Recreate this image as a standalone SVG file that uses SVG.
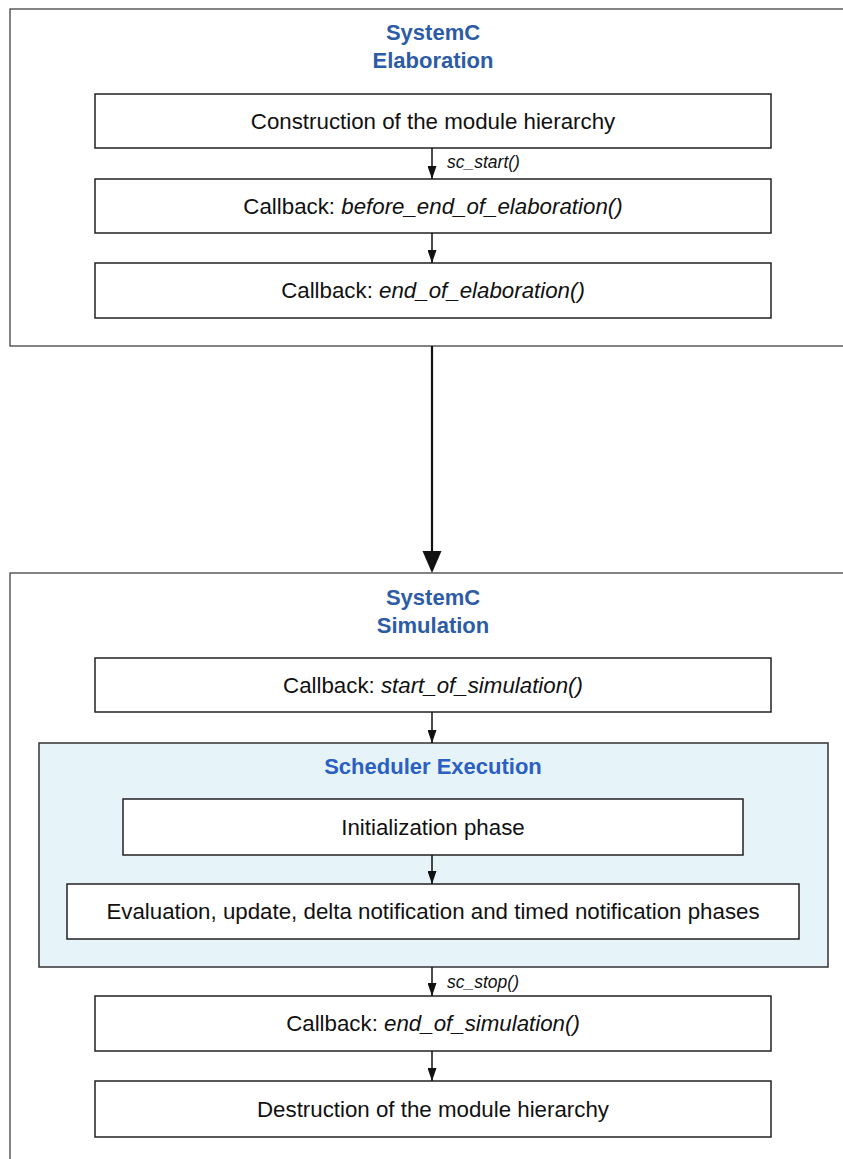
<svg xmlns="http://www.w3.org/2000/svg" width="843" height="1159" viewBox="0 0 843 1159">
<defs>
<style>
.frame{fill:#ffffff;stroke:#333333;stroke-width:1.2}
.sched{fill:#e6f3f9;stroke:#333333;stroke-width:1.5}
.node{fill:#ffffff;stroke:#222222;stroke-width:1.5}
.t{font-family:"Liberation Sans",Arial,sans-serif;font-size:22.3px;fill:#111111;text-anchor:middle}
.title{font-family:"Liberation Sans",Arial,sans-serif;font-size:22px;font-weight:bold;fill:#2d5ca6;text-anchor:middle}
.title2{font-family:"Liberation Sans",Arial,sans-serif;font-size:22px;font-weight:bold;fill:#2b5fc4;text-anchor:middle}
.lbl{font-family:"Liberation Sans",Arial,sans-serif;font-size:17.5px;font-style:italic;fill:#111111}
.conn{stroke:#111111;stroke-width:1.5;fill:none}
.big{stroke:#111111;stroke-width:2.2;fill:none}
</style>
<marker id="ah" markerWidth="13" markerHeight="9" refX="13" refY="4.5" orient="auto" markerUnits="userSpaceOnUse" viewBox="0 0 13 9">
<path d="M0,0 L13,4.5 L0,9 Z" fill="#111111"/>
</marker>
</defs>

<g id="elaboration">
<rect class="frame" x="10" y="9" width="845" height="337"/>
<text class="title" x="433" y="40">SystemC</text>
<text class="title" x="433" y="68">Elaboration</text>
</g>
<g id="n-construction">
<rect class="node" x="95" y="94" width="676" height="54"/>
<text class="t" x="433" y="129">Construction of the module hierarchy</text>
</g>
<g id="n-before-eoe">
<rect class="node" x="95" y="179" width="676" height="54"/>
<text class="t" x="433" y="214">Callback: <tspan font-style="italic">before_end_of_elaboration()</tspan></text>
</g>
<g id="n-eoe">
<rect class="node" x="95" y="263" width="676" height="55"/>
<text class="t" x="433" y="298">Callback: <tspan font-style="italic">end_of_elaboration()</tspan></text>
</g>

<g id="simulation">
<rect class="frame" x="10" y="573" width="845" height="600"/>
<text class="title" x="433" y="605">SystemC</text>
<text class="title" x="433" y="633">Simulation</text>
</g>
<g id="n-sos">
<rect class="node" x="95" y="658" width="676" height="54"/>
<text class="t" x="433" y="693">Callback: <tspan font-style="italic">start_of_simulation()</tspan></text>
</g>
<g id="scheduler">
<rect class="sched" x="39" y="743" width="789" height="224"/>
<text class="title2" x="433" y="774">Scheduler Execution</text>
</g>
<g id="n-init">
<rect class="node" x="123" y="799" width="620" height="56"/>
<text class="t" x="433" y="835">Initialization phase</text>
</g>
<g id="n-eval">
<rect class="node" x="67" y="884" width="732" height="55"/>
<text class="t" x="433" y="919">Evaluation, update, delta notification and timed notification phases</text>
</g>
<g id="n-eos">
<rect class="node" x="95" y="996" width="676" height="55"/>
<text class="t" x="433" y="1031">Callback: <tspan font-style="italic">end_of_simulation()</tspan></text>
</g>
<g id="n-destruction">
<rect class="node" x="95" y="1081" width="676" height="56"/>
<text class="t" x="433" y="1117">Destruction of the module hierarchy</text>
</g>

<g id="connectors">
<line class="conn" x1="432" y1="148" x2="432" y2="179" marker-end="url(#ah)"/>
<text class="lbl" x="447" y="168">sc_start()</text>
<line class="conn" x1="432" y1="233" x2="432" y2="263" marker-end="url(#ah)"/>
<line class="big" x1="432" y1="346" x2="432" y2="556"/>
<path d="M422.5,551 L441.5,551 L432,573 Z" fill="#111111"/>
<line class="conn" x1="432" y1="712" x2="432" y2="743" marker-end="url(#ah)"/>
<line class="conn" x1="432" y1="855" x2="432" y2="884" marker-end="url(#ah)"/>
<line class="conn" x1="432" y1="967" x2="432" y2="996" marker-end="url(#ah)"/>
<text class="lbl" x="447" y="988">sc_stop()</text>
<line class="conn" x1="432" y1="1051" x2="432" y2="1081" marker-end="url(#ah)"/>
</g>
</svg>
